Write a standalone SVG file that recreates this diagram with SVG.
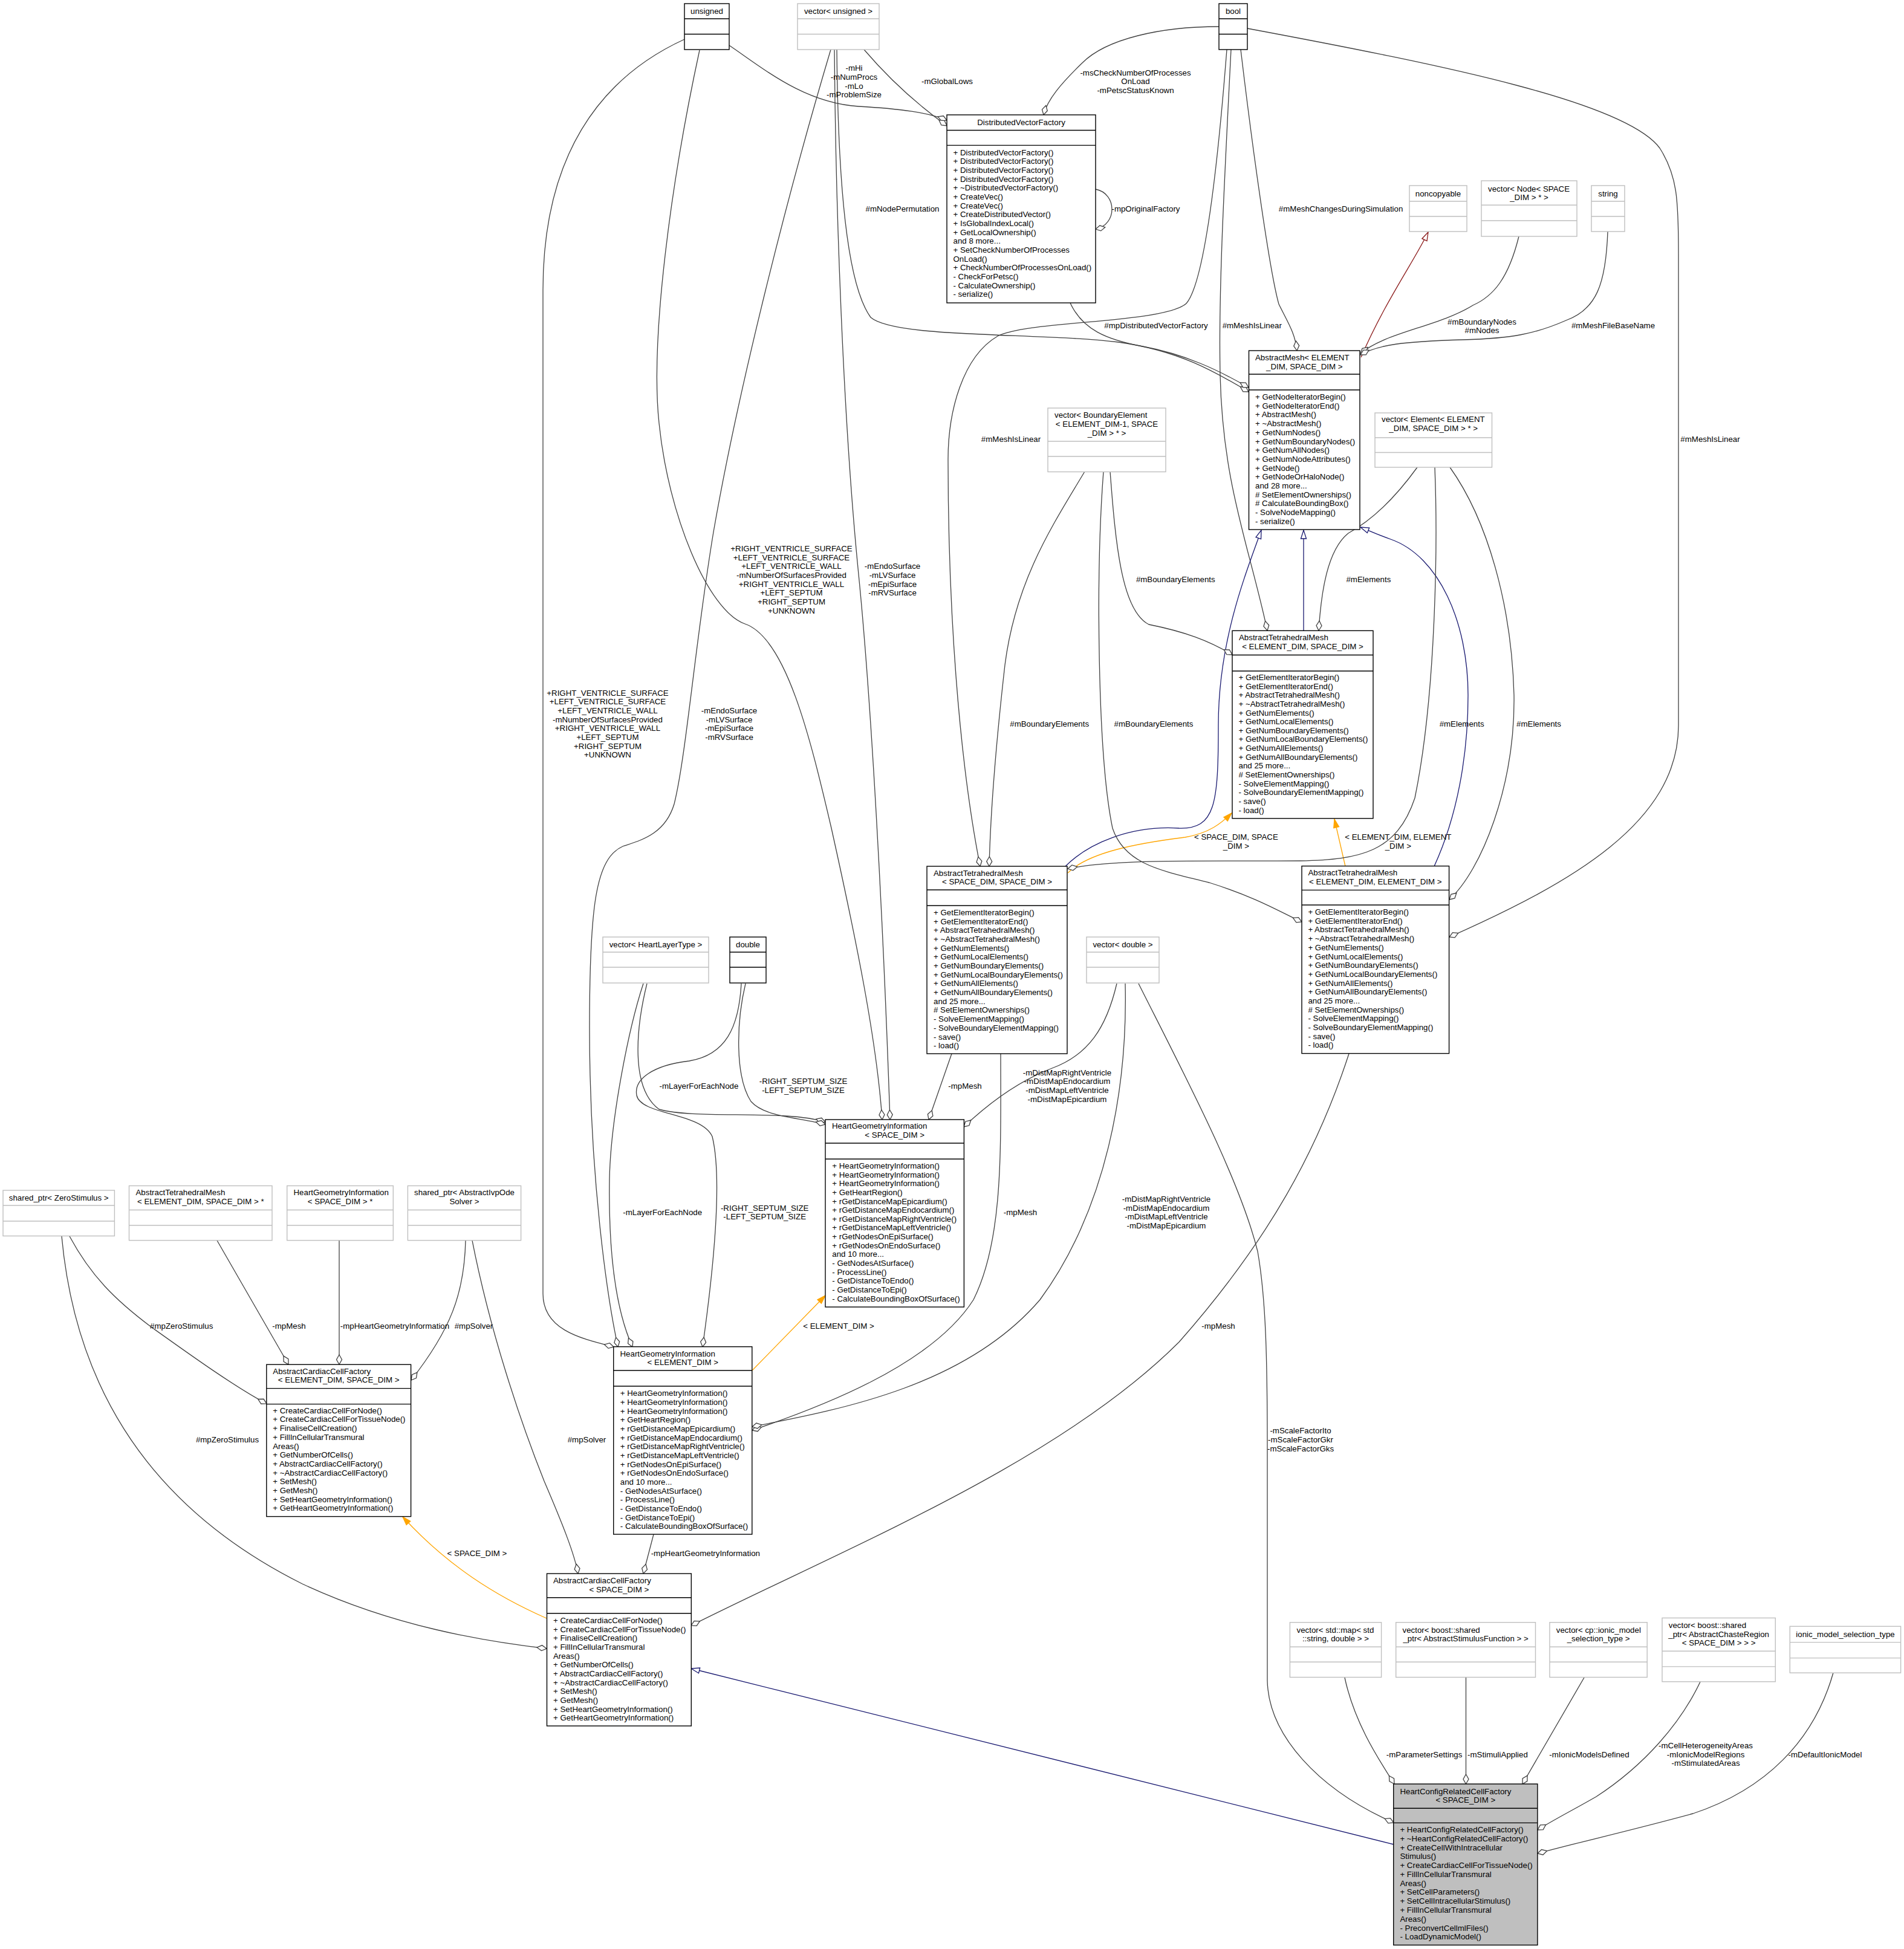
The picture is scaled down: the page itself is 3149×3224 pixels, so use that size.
<svg xmlns="http://www.w3.org/2000/svg" width="3149" height="3224" viewBox="0 0 3149 3224">
<style>
.n rect{fill:#fff;stroke:#000;stroke-width:1.4}
.n path{fill:none;stroke:#000;stroke-width:1.4}
.g rect,.g path{stroke:#bfbfbf}
.h rect{fill:#bfbfbf}
text{font-family:"Liberation Sans",Arial,Helvetica,sans-serif;font-size:13.3px;fill:#000}
.c{text-anchor:middle}
.e path{fill:none;stroke:#404040;stroke-width:1.3;marker-end:url(#dia)}
.e path.b{stroke:#191970;marker-end:url(#inh)}
.e path.r{stroke:#8b1a1a;marker-end:url(#prv)}
.e path.o{stroke:#ffa500;marker-end:url(#tpl)}
</style>
<defs>
<marker id="dia" markerUnits="userSpaceOnUse" markerWidth="20" markerHeight="12" refX="17" refY="5" orient="auto" overflow="visible"><path d="M1,5 L9,0.5 L17,5 L9,9.5 Z" fill="#fff" stroke="#404040" stroke-width="1.3"/></marker>
<marker id="inh" markerUnits="userSpaceOnUse" markerWidth="16" markerHeight="12" refX="15" refY="5.5" orient="auto" overflow="visible"><path d="M1,1 L15,5.5 L1,10 Z" fill="#fff" stroke="#191970" stroke-width="1.3"/></marker>
<marker id="prv" markerUnits="userSpaceOnUse" markerWidth="16" markerHeight="12" refX="15" refY="5.5" orient="auto" overflow="visible"><path d="M1,1 L15,5.5 L1,10 Z" fill="#fff" stroke="#8b1a1a" stroke-width="1.3"/></marker>
<marker id="tpl" markerUnits="userSpaceOnUse" markerWidth="16" markerHeight="12" refX="15" refY="5.5" orient="auto" overflow="visible"><path d="M1,1 L15,5.5 L1,10 Z" fill="#ffa500" stroke="#ffa500" stroke-width="1.3"/></marker>
</defs>
<rect width="3149" height="3224" fill="#fff"/>

<g id="edges" class="e">
<path d="M1206,75 C1265,115 1330,170 1420,176 C1490,180 1535,186 1566,199"/>
<path d="M1429,82 C1470,130 1520,175 1566,208"/>
<path d="M2016,44 C1920,44 1830,64 1790,104 C1755,138 1732,165 1726,190"/>
<path d="M1812,313 C1848,320 1848,372 1812,379"/>
<path d="M1384,82 C1386,300 1400,470 1440,525 C1480,560 1720,550 1850,566 C1950,580 2010,615 2065,648"/>
<path d="M1770,501 C1790,545 1830,562 1890,573 C1960,586 2015,612 2065,641"/>
<path d="M2052,82 C2072,250 2100,450 2115,503 C2128,530 2142,550 2145,580"/>
<path d="M2036,82 C2025,300 2015,480 2018,620 C2022,800 2065,900 2096,1043"/>
<path d="M2029,82 C2012,300 1990,470 1962,502 C1925,535 1700,530 1650,556 C1592,590 1568,680 1568,760 C1568,1000 1585,1250 1621,1433"/>
<path d="M2063,47 C2400,110 2690,170 2745,245 C2774,290 2776,330 2776,420 L2776,1200 C2776,1360 2600,1460 2397,1550"/>
<path class="r" d="M2251,591 C2290,500 2340,430 2362,384"/>
<path d="M2512,391 C2495,460 2470,490 2436,505 C2380,540 2290,550 2250,585"/>
<path d="M2659,383 C2656,470 2640,512 2590,530 C2540,552 2500,560 2420,562 C2320,565 2280,570 2250,587"/>
<path class="b" d="M2156,1043 L2156,877"/>
<path class="b" d="M1762,1433 C1800,1395 1870,1365 1950,1370 C2010,1372 2015,1330 2015,1200 C2015,1060 2060,950 2086,877"/>
<path class="b" d="M2372,1433 C2410,1350 2428,1250 2428,1150 C2428,1030 2380,920 2300,892 C2280,885 2265,878 2250,872"/>
<path class="o" d="M1766,1444 C1800,1410 1880,1395 1960,1385 C2000,1378 2020,1362 2037,1345"/>
<path class="o" d="M2225,1433 L2207,1355"/>
<path d="M1836,780 C1845,900 1855,1010 1900,1033 C1960,1045 2000,1060 2038,1083"/>
<path d="M1794,780 C1740,870 1680,960 1662,1100 C1645,1250 1638,1350 1636,1433"/>
<path d="M1825,780 C1812,950 1815,1250 1840,1370 C1860,1430 1920,1440 2000,1460 C2080,1485 2120,1510 2153,1525"/>
<path d="M2344,773 C2310,820 2270,860 2230,882 C2195,910 2185,980 2181,1043"/>
<path d="M2373,773 C2378,900 2375,1150 2340,1320 C2310,1410 2250,1422 2150,1424 C2000,1425 1850,1420 1766,1437"/>
<path d="M2398,773 C2460,860 2500,1000 2504,1150 C2506,1300 2450,1440 2397,1488"/>
<path d="M1157,83 C1110,300 1075,560 1090,700 C1105,850 1170,1010 1232,1032 C1300,1055 1340,1220 1375,1370 C1415,1550 1450,1720 1459,1852"/>
<path d="M1380,82 C1382,350 1395,700 1420,950 C1440,1150 1460,1500 1472,1852"/>
<path d="M1132,65 C990,130 898,260 898,480 L898,2140 C898,2200 960,2214 1015,2228"/>
<path d="M1374,82 C1300,330 1220,650 1180,880 C1150,1060 1135,1250 1115,1330 C1100,1380 1060,1390 1030,1400 C985,1420 975,1500 975,1700 C975,1950 1005,2150 1022,2228"/>
<path d="M1064,1627 C1040,1700 1010,1850 1008,1950 C1006,2080 1020,2170 1046,2228"/>
<path d="M1070,1627 C1052,1700 1042,1800 1090,1835 C1150,1852 1300,1835 1365,1856"/>
<path d="M1233,1627 C1218,1690 1215,1780 1242,1822 C1265,1848 1320,1848 1365,1860"/>
<path d="M1226,1627 C1222,1700 1200,1745 1140,1755 C1080,1762 1048,1785 1053,1812 C1060,1845 1160,1840 1178,1880 C1195,1950 1180,2100 1162,2228"/>
<path d="M1574,1743 L1536,1852"/>
<path d="M1847,1627 C1830,1700 1800,1745 1740,1767 C1680,1790 1630,1830 1594,1864"/>
<path d="M1655,1743 C1655,1900 1660,2050 1610,2150 C1540,2260 1350,2330 1244,2366"/>
<path d="M1861,1627 C1865,1800 1830,2000 1720,2150 C1600,2290 1400,2330 1244,2360"/>
<path class="o" d="M1244,2267 L1365,2143"/>
<path d="M115,2045 C150,2110 190,2150 250,2195 C320,2245 390,2295 441,2322"/>
<path d="M102,2045 C130,2350 300,2520 500,2620 C650,2690 800,2715 904,2727"/>
<path d="M359,2052 L477,2257"/>
<path d="M561,2052 L561,2257"/>
<path d="M770,2052 C768,2140 745,2200 680,2283"/>
<path d="M781,2052 C810,2200 860,2350 900,2450 C930,2520 950,2570 956,2603"/>
<path d="M1081,2538 L1064,2603"/>
<path class="o" d="M904,2677 C820,2640 740,2590 666,2509"/>
<path class="b" d="M2305,3051 L1143,2760"/>
<path d="M2231,1743 C2180,1900 2100,2050 1950,2220 C1750,2420 1400,2560 1143,2689"/>
<path d="M1883,1627 C1960,1780 2050,1950 2080,2070 C2094,2150 2096,2250 2096,2400 L2096,2780 C2098,2870 2180,2960 2305,3015"/>
<path d="M2224,2775 C2240,2850 2280,2910 2306,2951"/>
<path d="M2424.5,2775 L2424.5,2951"/>
<path d="M2620,2775 L2518,2951"/>
<path d="M2812,2782 C2780,2850 2720,2920 2640,2972 C2600,2995 2570,3010 2543,3027"/>
<path d="M3032,2767 C3000,2880 2920,2960 2800,3000 C2690,3030 2600,3050 2543,3066"/>
</g>

<g id="labels" class="c">
<text x="1412.5" y="117.4">-mHi</text><text x="1412.5" y="132">-mNumProcs</text><text x="1412.5" y="147.4">-mLo</text><text x="1412.5" y="161.3">-mProblemSize</text>
<text x="1566.5" y="139.1">-mGlobalLows</text>
<text x="1878" y="125.3">-msCheckNumberOfProcesses</text><text x="1878" y="139.1">OnLoad</text><text x="1878" y="154.2">-mPetscStatusKnown</text>
<text x="1895" y="349.5">-mpOriginalFactory</text>
<text x="1492.5" y="349.5">#mNodePermutation</text>
<text x="1912" y="543.2">#mpDistributedVectorFactory</text>
<text x="2217.6" y="349.5">#mMeshChangesDuringSimulation</text>
<text x="2070.8" y="543.2">#mMeshIsLinear</text>
<text x="1672" y="731.2">#mMeshIsLinear</text>
<text x="2828.5" y="731">#mMeshIsLinear</text>
<text x="2451" y="536.5">#mBoundaryNodes</text><text x="2451" y="551.1">#mNodes</text>
<text x="2668" y="543.2">#mMeshFileBaseName</text>
<text x="1944.3" y="963.1">#mBoundaryElements</text>
<text x="1735.7" y="1201.7">#mBoundaryElements</text>
<text x="1908" y="1201.7">#mBoundaryElements</text>
<text x="2263.4" y="962.7">#mElements</text>
<text x="2417.6" y="1201.7">#mElements</text>
<text x="2545" y="1201.7">#mElements</text>
<text x="2044.4" y="1389">&lt; SPACE_DIM, SPACE</text><text x="2044.4" y="1403.9">_DIM &gt;</text>
<text x="2312.3" y="1389">&lt; ELEMENT_DIM, ELEMENT</text><text x="2312.3" y="1403.9">_DIM &gt;</text>
<text x="1309" y="912">+RIGHT_VENTRICLE_SURFACE</text><text x="1309" y="927">+LEFT_VENTRICLE_SURFACE</text><text x="1309" y="941.4">+LEFT_VENTRICLE_WALL</text><text x="1309" y="956">-mNumberOfSurfacesProvided</text><text x="1309" y="971">+RIGHT_VENTRICLE_WALL</text><text x="1309" y="984.7">+LEFT_SEPTUM</text><text x="1309" y="1000">+RIGHT_SEPTUM</text><text x="1309" y="1014.7">+UNKNOWN</text>
<text x="1476" y="941.4">-mEndoSurface</text><text x="1476" y="956">-mLVSurface</text><text x="1476" y="970.7">-mEpiSurface</text><text x="1476" y="985.4">-mRVSurface</text>
<text x="1005" y="1151.4">+RIGHT_VENTRICLE_SURFACE</text><text x="1005" y="1165.4">+LEFT_VENTRICLE_SURFACE</text><text x="1005" y="1179.7">+LEFT_VENTRICLE_WALL</text><text x="1005" y="1194.7">-mNumberOfSurfacesProvided</text><text x="1005" y="1209">+RIGHT_VENTRICLE_WALL</text><text x="1005" y="1223.7">+LEFT_SEPTUM</text><text x="1005" y="1238.7">+RIGHT_SEPTUM</text><text x="1005" y="1253">+UNKNOWN</text>
<text x="1206" y="1180.4">-mEndoSurface</text><text x="1206" y="1195.4">-mLVSurface</text><text x="1206" y="1209">-mEpiSurface</text><text x="1206" y="1224">-mRVSurface</text>
<text x="1156" y="1800.7">-mLayerForEachNode</text>
<text x="1328.5" y="1793.4">-RIGHT_SEPTUM_SIZE</text><text x="1328.5" y="1808.3">-LEFT_SEPTUM_SIZE</text>
<text x="1596" y="1800.7">-mpMesh</text>
<text x="1765" y="1779">-mDistMapRightVentricle</text><text x="1765" y="1793.4">-mDistMapEndocardium</text><text x="1765" y="1808">-mDistMapLeftVentricle</text><text x="1765" y="1823.4">-mDistMapEpicardium</text>
<text x="1095.7" y="2010.4">-mLayerForEachNode</text>
<text x="1264.7" y="2002.9">-RIGHT_SEPTUM_SIZE</text><text x="1264.7" y="2017.3">-LEFT_SEPTUM_SIZE</text>
<text x="1687.5" y="2010.4">-mpMesh</text>
<text x="1929" y="1988">-mDistMapRightVentricle</text><text x="1929" y="2003">-mDistMapEndocardium</text><text x="1929" y="2017.4">-mDistMapLeftVentricle</text><text x="1929" y="2032">-mDistMapEpicardium</text>
<text x="1387" y="2198.1">&lt; ELEMENT_DIM &gt;</text>
<text x="2015" y="2198">-mpMesh</text>
<text x="2151" y="2371.4">-mScaleFactorIto</text><text x="2151" y="2386.4">-mScaleFactorGkr</text><text x="2151" y="2401.4">-mScaleFactorGks</text>
<text x="300.2" y="2198.3">#mpZeroStimulus</text>
<text x="478" y="2198.3">-mpMesh</text>
<text x="653" y="2198.3">-mpHeartGeometryInformation</text>
<text x="783.5" y="2198.3">#mpSolver</text>
<text x="376" y="2386.1">#mpZeroStimulus</text>
<text x="970.5" y="2386.4">#mpSolver</text>
<text x="1166.8" y="2574.3">-mpHeartGeometryInformation</text>
<text x="789" y="2573.7">&lt; SPACE_DIM &gt;</text>
<text x="2355.6" y="2906.6">-mParameterSettings</text>
<text x="2477" y="2906.7">-mStimuliApplied</text>
<text x="2628.5" y="2906.7">-mIonicModelsDefined</text>
<text x="2821" y="2891.6">-mCellHeterogeneityAreas</text><text x="2821" y="2906.6">-mIonicModelRegions</text><text x="2821" y="2921.2">-mStimulatedAreas</text>
<text x="3018.5" y="2906.7">-mDefaultIonicModel</text>
</g>

<g id="n_unsigned" class="n"><rect x="1132" y="6" width="74" height="76"/><path d="M1132,31H1206M1132,56.5H1206"/><text class="c" x="1169" y="23.2">unsigned</text></g>
<g id="n_vector_unsigned" class="n g"><rect x="1319" y="6" width="135" height="76"/><path d="M1319,31H1454M1319,56.5H1454"/><text class="c" x="1386.5" y="23.2">vector&lt; unsigned &gt;</text></g>
<g id="n_bool" class="n"><rect x="2016" y="6" width="47" height="76"/><path d="M2016,31H2063M2016,56.5H2063"/><text class="c" x="2039.5" y="23.2">bool</text></g>

<g id="n_DistributedVectorFactory" class="n"><rect x="1566" y="190" width="246" height="311"/><path d="M1566,215.5H1812M1566,240.4H1812"/><text class="c" x="1689" y="207.4">DistributedVectorFactory</text>
<text x="1576.5" y="256.8"><tspan x="1576.5">+ DistributedVectorFactory()</tspan><tspan x="1576.5" dy="14.65">+ DistributedVectorFactory()</tspan><tspan x="1576.5" dy="14.65">+ DistributedVectorFactory()</tspan><tspan x="1576.5" dy="14.65">+ DistributedVectorFactory()</tspan><tspan x="1576.5" dy="14.65">+ ~DistributedVectorFactory()</tspan><tspan x="1576.5" dy="14.65">+ CreateVec()</tspan><tspan x="1576.5" dy="14.65">+ CreateVec()</tspan><tspan x="1576.5" dy="14.65">+ CreateDistributedVector()</tspan><tspan x="1576.5" dy="14.65">+ IsGlobalIndexLocal()</tspan><tspan x="1576.5" dy="14.65">+ GetLocalOwnership()</tspan><tspan x="1576.5" dy="14.65">and 8 more...</tspan><tspan x="1576.5" dy="14.65">+ SetCheckNumberOfProcesses</tspan><tspan x="1576.5" dy="14.65">OnLoad()</tspan><tspan x="1576.5" dy="14.65">+ CheckNumberOfProcessesOnLoad()</tspan><tspan x="1576.5" dy="14.65">- CheckForPetsc()</tspan><tspan x="1576.5" dy="14.65">- CalculateOwnership()</tspan><tspan x="1576.5" dy="14.65">- serialize()</tspan></text></g>

<g id="n_noncopyable" class="n g"><rect x="2331" y="307" width="95" height="76"/><path d="M2331,333H2426M2331,358H2426"/><text class="c" x="2378.5" y="324.7">noncopyable</text></g>
<g id="n_vector_Node" class="n g"><rect x="2450" y="299" width="158" height="92"/><path d="M2450,339.3H2608M2450,365H2608"/><text x="2461" y="316.7">vector&lt; Node&lt; SPACE</text><text class="c" x="2529" y="331.3">_DIM &gt; * &gt;</text></g>
<g id="n_string" class="n g"><rect x="2632" y="307" width="55" height="76"/><path d="M2632,333H2687M2632,358H2687"/><text class="c" x="2659.5" y="324.7">string</text></g>

<g id="n_AbstractMesh" class="n"><rect x="2065.5" y="580" width="183.5" height="296"/><path d="M2065.5,619H2249M2065.5,645H2249"/><text x="2076" y="596.3">AbstractMesh&lt; ELEMENT</text><text class="c" x="2157.3" y="611.2">_DIM, SPACE_DIM &gt;</text>
<text x="2076" y="661"><tspan x="2076">+ GetNodeIteratorBegin()</tspan><tspan x="2076" dy="14.7">+ GetNodeIteratorEnd()</tspan><tspan x="2076" dy="14.7">+ AbstractMesh()</tspan><tspan x="2076" dy="14.7">+ ~AbstractMesh()</tspan><tspan x="2076" dy="14.7">+ GetNumNodes()</tspan><tspan x="2076" dy="14.7">+ GetNumBoundaryNodes()</tspan><tspan x="2076" dy="14.7">+ GetNumAllNodes()</tspan><tspan x="2076" dy="14.7">+ GetNumNodeAttributes()</tspan><tspan x="2076" dy="14.7">+ GetNode()</tspan><tspan x="2076" dy="14.7">+ GetNodeOrHaloNode()</tspan><tspan x="2076" dy="14.7">and 28 more...</tspan><tspan x="2076" dy="14.7"># SetElementOwnerships()</tspan><tspan x="2076" dy="14.7"># CalculateBoundingBox()</tspan><tspan x="2076" dy="14.7">- SolveNodeMapping()</tspan><tspan x="2076" dy="14.7">- serialize()</tspan></text></g>

<g id="n_vector_BoundaryElement" class="n g"><rect x="1733" y="675" width="195" height="105.5"/><path d="M1733,730H1928M1733,755H1928"/><text x="1744" y="691">vector&lt; BoundaryElement</text><text class="c" x="1830.5" y="705.9">&lt; ELEMENT_DIM-1, SPACE</text><text class="c" x="1830.5" y="720.8">_DIM &gt; * &gt;</text></g>
<g id="n_vector_Element" class="n g"><rect x="2274" y="683" width="193.5" height="90"/><path d="M2274,724H2467.5M2274,748.5H2467.5"/><text x="2285" y="698.1">vector&lt; Element&lt; ELEMENT</text><text class="c" x="2370.7" y="712.6">_DIM, SPACE_DIM &gt; * &gt;</text></g>

<g id="n_ATM_ES" class="n"><rect x="2038" y="1043.3" width="233" height="310.5"/><path d="M2038,1083.5H2271M2038,1110H2271"/><text x="2049" y="1058.9">AbstractTetrahedralMesh</text><text class="c" x="2154.5" y="1074.4">&lt; ELEMENT_DIM, SPACE_DIM &gt;</text>
<text x="2048.5" y="1124.9"><tspan x="2048.5">+ GetElementIteratorBegin()</tspan><tspan x="2048.5" dy="14.65">+ GetElementIteratorEnd()</tspan><tspan x="2048.5" dy="14.65">+ AbstractTetrahedralMesh()</tspan><tspan x="2048.5" dy="14.65">+ ~AbstractTetrahedralMesh()</tspan><tspan x="2048.5" dy="14.65">+ GetNumElements()</tspan><tspan x="2048.5" dy="14.65">+ GetNumLocalElements()</tspan><tspan x="2048.5" dy="14.65">+ GetNumBoundaryElements()</tspan><tspan x="2048.5" dy="14.65">+ GetNumLocalBoundaryElements()</tspan><tspan x="2048.5" dy="14.65">+ GetNumAllElements()</tspan><tspan x="2048.5" dy="14.65">+ GetNumAllBoundaryElements()</tspan><tspan x="2048.5" dy="14.65">and 25 more...</tspan><tspan x="2048.5" dy="14.65"># SetElementOwnerships()</tspan><tspan x="2048.5" dy="14.65">- SolveElementMapping()</tspan><tspan x="2048.5" dy="14.65">- SolveBoundaryElementMapping()</tspan><tspan x="2048.5" dy="14.65">- save()</tspan><tspan x="2048.5" dy="14.65">- load()</tspan></text></g>

<g id="n_ATM_SS" class="n"><rect x="1533" y="1433" width="232" height="310"/><path d="M1533,1472H1765M1533,1498H1765"/><text x="1544" y="1449">AbstractTetrahedralMesh</text><text class="c" x="1649" y="1463.3">&lt; SPACE_DIM, SPACE_DIM &gt;</text>
<text x="1544" y="1513.9"><tspan x="1544">+ GetElementIteratorBegin()</tspan><tspan x="1544" dy="14.69">+ GetElementIteratorEnd()</tspan><tspan x="1544" dy="14.69">+ AbstractTetrahedralMesh()</tspan><tspan x="1544" dy="14.69">+ ~AbstractTetrahedralMesh()</tspan><tspan x="1544" dy="14.69">+ GetNumElements()</tspan><tspan x="1544" dy="14.69">+ GetNumLocalElements()</tspan><tspan x="1544" dy="14.69">+ GetNumBoundaryElements()</tspan><tspan x="1544" dy="14.69">+ GetNumLocalBoundaryElements()</tspan><tspan x="1544" dy="14.69">+ GetNumAllElements()</tspan><tspan x="1544" dy="14.69">+ GetNumAllBoundaryElements()</tspan><tspan x="1544" dy="14.69">and 25 more...</tspan><tspan x="1544" dy="14.69"># SetElementOwnerships()</tspan><tspan x="1544" dy="14.69">- SolveElementMapping()</tspan><tspan x="1544" dy="14.69">- SolveBoundaryElementMapping()</tspan><tspan x="1544" dy="14.69">- save()</tspan><tspan x="1544" dy="14.69">- load()</tspan></text></g>

<g id="n_ATM_EE" class="n"><rect x="2153" y="1432.6" width="243.6" height="310"/><path d="M2153,1472.4H2396.6M2153,1497H2396.6"/><text x="2163.4" y="1448.1">AbstractTetrahedralMesh</text><text class="c" x="2274.8" y="1462.6">&lt; ELEMENT_DIM, ELEMENT_DIM &gt;</text>
<text x="2163.4" y="1513.1"><tspan x="2163.4">+ GetElementIteratorBegin()</tspan><tspan x="2163.4" dy="14.69">+ GetElementIteratorEnd()</tspan><tspan x="2163.4" dy="14.69">+ AbstractTetrahedralMesh()</tspan><tspan x="2163.4" dy="14.69">+ ~AbstractTetrahedralMesh()</tspan><tspan x="2163.4" dy="14.69">+ GetNumElements()</tspan><tspan x="2163.4" dy="14.69">+ GetNumLocalElements()</tspan><tspan x="2163.4" dy="14.69">+ GetNumBoundaryElements()</tspan><tspan x="2163.4" dy="14.69">+ GetNumLocalBoundaryElements()</tspan><tspan x="2163.4" dy="14.69">+ GetNumAllElements()</tspan><tspan x="2163.4" dy="14.69">+ GetNumAllBoundaryElements()</tspan><tspan x="2163.4" dy="14.69">and 25 more...</tspan><tspan x="2163.4" dy="14.69"># SetElementOwnerships()</tspan><tspan x="2163.4" dy="14.69">- SolveElementMapping()</tspan><tspan x="2163.4" dy="14.69">- SolveBoundaryElementMapping()</tspan><tspan x="2163.4" dy="14.69">- save()</tspan><tspan x="2163.4" dy="14.69">- load()</tspan></text></g>

<g id="n_vector_HeartLayerType" class="n g"><rect x="997" y="1550" width="175" height="76"/><path d="M997,1575H1172M997,1600H1172"/><text class="c" x="1084.5" y="1567.2">vector&lt; HeartLayerType &gt;</text></g>
<g id="n_double" class="n"><rect x="1207" y="1550" width="60" height="76"/><path d="M1207,1575H1267M1207,1600H1267"/><text class="c" x="1237" y="1567.2">double</text></g>
<g id="n_vector_double" class="n g"><rect x="1797" y="1550" width="120" height="76"/><path d="M1797,1575H1917M1797,1600H1917"/><text class="c" x="1857" y="1567.2">vector&lt; double &gt;</text></g>

<g id="n_HGI_S" class="n"><rect x="1365" y="1852" width="229.4" height="310"/><path d="M1365,1891H1594.4M1365,1917.3H1594.4"/><text x="1376" y="1866.9">HeartGeometryInformation</text><text class="c" x="1479.7" y="1882.4">&lt; SPACE_DIM &gt;</text>
<text x="1376.3" y="1932.9"><tspan x="1376.3">+ HeartGeometryInformation()</tspan><tspan x="1376.3" dy="14.65">+ HeartGeometryInformation()</tspan><tspan x="1376.3" dy="14.65">+ HeartGeometryInformation()</tspan><tspan x="1376.3" dy="14.65">+ GetHeartRegion()</tspan><tspan x="1376.3" dy="14.65">+ rGetDistanceMapEpicardium()</tspan><tspan x="1376.3" dy="14.65">+ rGetDistanceMapEndocardium()</tspan><tspan x="1376.3" dy="14.65">+ rGetDistanceMapRightVentricle()</tspan><tspan x="1376.3" dy="14.65">+ rGetDistanceMapLeftVentricle()</tspan><tspan x="1376.3" dy="14.65">+ rGetNodesOnEpiSurface()</tspan><tspan x="1376.3" dy="14.65">+ rGetNodesOnEndoSurface()</tspan><tspan x="1376.3" dy="14.65">and 10 more...</tspan><tspan x="1376.3" dy="14.65">- GetNodesAtSurface()</tspan><tspan x="1376.3" dy="14.65">- ProcessLine()</tspan><tspan x="1376.3" dy="14.65">- GetDistanceToEndo()</tspan><tspan x="1376.3" dy="14.65">- GetDistanceToEpi()</tspan><tspan x="1376.3" dy="14.65">- CalculateBoundingBoxOfSurface()</tspan></text></g>

<g id="n_HGI_E" class="n"><rect x="1014.7" y="2227.7" width="229.1" height="310.3"/><path d="M1014.7,2267H1243.8M1014.7,2293H1243.8"/><text x="1025.5" y="2243.5">HeartGeometryInformation</text><text class="c" x="1129.3" y="2258.3">&lt; ELEMENT_DIM &gt;</text>
<text x="1025.8" y="2309.2"><tspan x="1025.8">+ HeartGeometryInformation()</tspan><tspan x="1025.8" dy="14.67">+ HeartGeometryInformation()</tspan><tspan x="1025.8" dy="14.67">+ HeartGeometryInformation()</tspan><tspan x="1025.8" dy="14.67">+ GetHeartRegion()</tspan><tspan x="1025.8" dy="14.67">+ rGetDistanceMapEpicardium()</tspan><tspan x="1025.8" dy="14.67">+ rGetDistanceMapEndocardium()</tspan><tspan x="1025.8" dy="14.67">+ rGetDistanceMapRightVentricle()</tspan><tspan x="1025.8" dy="14.67">+ rGetDistanceMapLeftVentricle()</tspan><tspan x="1025.8" dy="14.67">+ rGetNodesOnEpiSurface()</tspan><tspan x="1025.8" dy="14.67">+ rGetNodesOnEndoSurface()</tspan><tspan x="1025.8" dy="14.67">and 10 more...</tspan><tspan x="1025.8" dy="14.67">- GetNodesAtSurface()</tspan><tspan x="1025.8" dy="14.67">- ProcessLine()</tspan><tspan x="1025.8" dy="14.67">- GetDistanceToEndo()</tspan><tspan x="1025.8" dy="14.67">- GetDistanceToEpi()</tspan><tspan x="1025.8" dy="14.67">- CalculateBoundingBoxOfSurface()</tspan></text></g>

<g id="n_shared_ptr_ZeroStimulus" class="n g"><rect x="5" y="1969" width="184.4" height="75.5"/><path d="M5,1994H189.4M5,2020H189.4"/><text class="c" x="97.2" y="1986.2">shared_ptr&lt; ZeroStimulus &gt;</text></g>
<g id="n_ATM_ES_ptr" class="n g"><rect x="213.5" y="1961.5" width="236.5" height="90.3"/><path d="M213.5,2001.5H450M213.5,2027H450"/><text x="224.5" y="1977.1">AbstractTetrahedralMesh</text><text class="c" x="331.8" y="1992.3">&lt; ELEMENT_DIM, SPACE_DIM &gt; *</text></g>
<g id="n_HGI_S_ptr" class="n g"><rect x="474.7" y="1961.5" width="175.6" height="90.3"/><path d="M474.7,2001.5H650.3M474.7,2027H650.3"/><text x="485.5" y="1977.1">HeartGeometryInformation</text><text class="c" x="562.5" y="1992.3">&lt; SPACE_DIM &gt; *</text></g>
<g id="n_shared_ptr_AbstractIvpOdeSolver" class="n g"><rect x="674.4" y="1961.5" width="187.2" height="90.3"/><path d="M674.4,2001.5H861.6M674.4,2027H861.6"/><text x="685" y="1977.1">shared_ptr&lt; AbstractIvpOde</text><text class="c" x="768" y="1992.3">Solver &gt;</text></g>

<g id="n_ACCF_ES" class="n"><rect x="440.8" y="2257.2" width="238.8" height="251.4"/><path d="M440.8,2296.6H679.6M440.8,2322.6H679.6"/><text x="451.3" y="2272.8">AbstractCardiacCellFactory</text><text class="c" x="560.2" y="2286.7">&lt; ELEMENT_DIM, SPACE_DIM &gt;</text>
<text x="451.2" y="2337.7"><tspan x="451.2">+ CreateCardiacCellForNode()</tspan><tspan x="451.2" dy="14.7">+ CreateCardiacCellForTissueNode()</tspan><tspan x="451.2" dy="14.7">+ FinaliseCellCreation()</tspan><tspan x="451.2" dy="14.7">+ FillInCellularTransmural</tspan><tspan x="451.2" dy="14.7">Areas()</tspan><tspan x="451.2" dy="14.7">+ GetNumberOfCells()</tspan><tspan x="451.2" dy="14.7">+ AbstractCardiacCellFactory()</tspan><tspan x="451.2" dy="14.7">+ ~AbstractCardiacCellFactory()</tspan><tspan x="451.2" dy="14.7">+ SetMesh()</tspan><tspan x="451.2" dy="14.7">+ GetMesh()</tspan><tspan x="451.2" dy="14.7">+ SetHeartGeometryInformation()</tspan><tspan x="451.2" dy="14.7">+ GetHeartGeometryInformation()</tspan></text></g>

<g id="n_ACCF_S" class="n"><rect x="904.5" y="2603" width="238.8" height="252"/><path d="M904.5,2642.8H1143.3M904.5,2668.7H1143.3"/><text x="915" y="2619">AbstractCardiacCellFactory</text><text class="c" x="1023.9" y="2634.1">&lt; SPACE_DIM &gt;</text>
<text x="915" y="2685"><tspan x="915">+ CreateCardiacCellForNode()</tspan><tspan x="915" dy="14.65">+ CreateCardiacCellForTissueNode()</tspan><tspan x="915" dy="14.65">+ FinaliseCellCreation()</tspan><tspan x="915" dy="14.65">+ FillInCellularTransmural</tspan><tspan x="915" dy="14.65">Areas()</tspan><tspan x="915" dy="14.65">+ GetNumberOfCells()</tspan><tspan x="915" dy="14.65">+ AbstractCardiacCellFactory()</tspan><tspan x="915" dy="14.65">+ ~AbstractCardiacCellFactory()</tspan><tspan x="915" dy="14.65">+ SetMesh()</tspan><tspan x="915" dy="14.65">+ GetMesh()</tspan><tspan x="915" dy="14.65">+ SetHeartGeometryInformation()</tspan><tspan x="915" dy="14.65">+ GetHeartGeometryInformation()</tspan></text></g>

<g id="n_vector_map" class="n g"><rect x="2133.4" y="2683.7" width="151.2" height="90.8"/><path d="M2133.4,2724.3H2284.6M2133.4,2749.2H2284.6"/><text x="2144.5" y="2701.2">vector&lt; std::map&lt; std</text><text class="c" x="2209" y="2715.1">::string, double &gt; &gt;</text></g>
<g id="n_vector_stimulus" class="n g"><rect x="2308.7" y="2683.7" width="230.8" height="90.8"/><path d="M2308.7,2724.3H2539.5M2308.7,2749.2H2539.5"/><text x="2319.5" y="2701.2">vector&lt; boost::shared</text><text class="c" x="2424.1" y="2715.1">_ptr&lt; AbstractStimulusFunction &gt; &gt;</text></g>
<g id="n_vector_ionic" class="n g"><rect x="2563" y="2683.7" width="161.2" height="90.8"/><path d="M2563,2724.3H2724.2M2563,2749.2H2724.2"/><text x="2573.8" y="2701.2">vector&lt; cp::ionic_model</text><text class="c" x="2643.6" y="2715.1">_selection_type &gt;</text></g>
<g id="n_vector_region" class="n g"><rect x="2749" y="2676.4" width="187.3" height="105.4"/><path d="M2749,2731.3H2936.3M2749,2756.9H2936.3"/><text x="2759.8" y="2693.1">vector&lt; boost::shared</text><text class="c" x="2842.6" y="2707.8">_ptr&lt; AbstractChasteRegion</text><text class="c" x="2842.6" y="2722.4">&lt; SPACE_DIM &gt; &gt; &gt;</text></g>
<g id="n_ionic_model_selection_type" class="n g"><rect x="2960.3" y="2690.3" width="183.3" height="76.9"/><path d="M2960.3,2716.6H3143.6M2960.3,2742.6H3143.6"/><text class="c" x="3052" y="2708.1">ionic_model_selection_type</text></g>

<g id="n_HeartConfigRelatedCellFactory" class="n h"><rect x="2304.7" y="2951" width="238.2" height="266.5"/><path d="M2304.7,2991.2H2542.9M2304.7,3015.4H2542.9"/><text x="2315.4" y="2967.9">HeartConfigRelatedCellFactory</text><text class="c" x="2423.8" y="2982.2">&lt; SPACE_DIM &gt;</text>
<text x="2315.4" y="3031.1"><tspan x="2315.4">+ HeartConfigRelatedCellFactory()</tspan><tspan x="2315.4" dy="14.77">+ ~HeartConfigRelatedCellFactory()</tspan><tspan x="2315.4" dy="14.77">+ CreateCellWithIntracellular</tspan><tspan x="2315.4" dy="14.77">Stimulus()</tspan><tspan x="2315.4" dy="14.77">+ CreateCardiacCellForTissueNode()</tspan><tspan x="2315.4" dy="14.77">+ FillInCellularTransmural</tspan><tspan x="2315.4" dy="14.77">Areas()</tspan><tspan x="2315.4" dy="14.77">+ SetCellParameters()</tspan><tspan x="2315.4" dy="14.77">+ SetCellIntracellularStimulus()</tspan><tspan x="2315.4" dy="14.77">+ FillInCellularTransmural</tspan><tspan x="2315.4" dy="14.77">Areas()</tspan><tspan x="2315.4" dy="14.77">- PreconvertCellmlFiles()</tspan><tspan x="2315.4" dy="14.77">- LoadDynamicModel()</tspan></text></g>
</svg>
